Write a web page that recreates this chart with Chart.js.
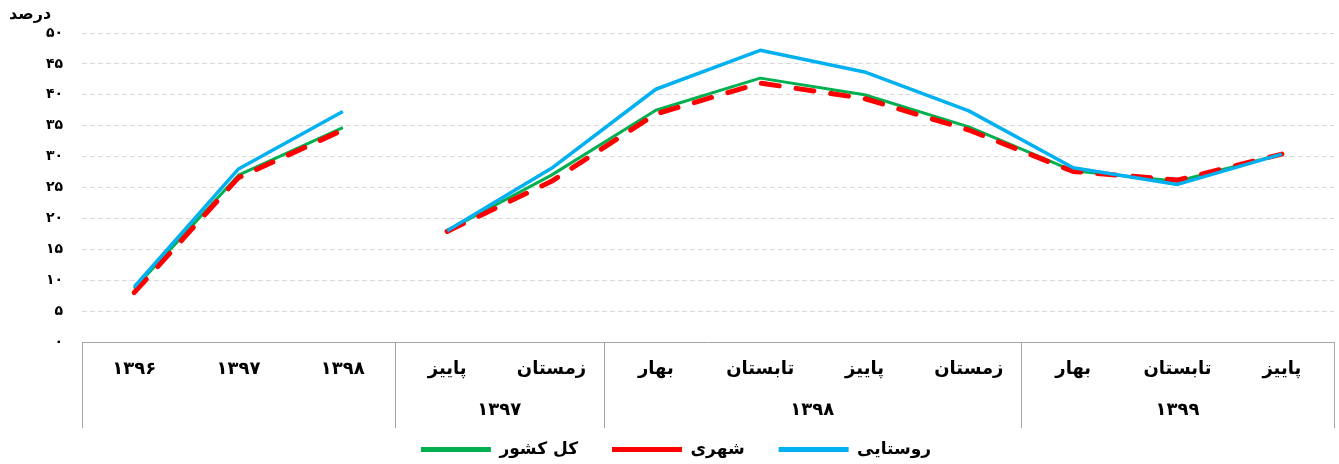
<!DOCTYPE html>
<html>
<head>
<meta charset="utf-8">
<script src="https://cdn.jsdelivr.net/npm/chart.js@4"></script>
<style>
  body { margin: 0; background: #fff; }
  #wrap { width: 1339px; height: 464px; }
</style>
</head>
<body>
<div id="wrap"><canvas id="chart"></canvas></div>
<script>
const categories = ['۱۳۹۶', '۱۳۹۷', '۱۳۹۸', 'پاییز', 'زمستان', 'بهار', 'تابستان', 'پاییز', 'زمستان', 'بهار', 'تابستان', 'پاییز'];
const groupLabels = ['', '۱۳۹۷', '۱۳۹۸', '۱۳۹۹'];
const groupSizes = [3, 2, 4, 3];
const seriesNames = ['کل کشور', 'شهری', 'روستایی'];
const total = [8.6, 27.0, 34.7, 18.0, 27.0, 37.5, 42.7, 40.0, 34.8, 27.7, 26.0, 30.4];
const urban = [8.0, 26.6, 34.3, 17.9, 26.0, 36.9, 41.9, 39.4, 34.3, 27.6, 26.2, 30.4];
const rural = [8.9, 28.0, 37.3, 18.0, 28.1, 40.9, 47.2, 43.7, 37.4, 28.2, 25.5, 30.4];
const yTicks = [0, 5, 10, 15, 20, 25, 30, 35, 40, 45, 50];

const FONT = "'DejaVu Sans', sans-serif";
const persianDigits = '۰۱۲۳۴۵۶۷۸۹';
function toPersian(n) {
    return String(n).replace(/\d/g, d => persianDigits[d]);
}

// break between the annual points and the quarterly points
const breakAfter = groupSizes[0] - 1;
const gapSegment = {
    borderColor: ctx => ctx.p0DataIndex === breakAfter ? 'rgba(0,0,0,0)' : undefined
};

const axisBox = {
    id: 'axisBox',
    afterLayout(chart) {
        // nudge the legend row a little lower and to the right
        chart.legend.top += 4;
        chart.legend.bottom += 4;
        chart.legend.left += 9;
        chart.legend.right += 9;
    },
    afterDraw(chart) {
        const ctx = chart.ctx;
        const x = chart.scales.x;
        const top = x.top;
        const bottom = top + 86;
        ctx.save();
        ctx.strokeStyle = '#a6a6a6';
        ctx.lineWidth = 1;
        let start = 0;
        const bounds = [0];
        groupSizes.forEach(s => { start += s; bounds.push(start); });
        bounds.forEach(b => {
            const px = Math.round(x.getPixelForValue(b - 0.5)) + 0.5;
            ctx.beginPath();
            ctx.moveTo(px, top);
            ctx.lineTo(px, bottom);
            ctx.stroke();
        });
        ctx.fillStyle = '#000';
        ctx.font = 'bold 18px ' + FONT;
        ctx.textAlign = 'center';
        ctx.textBaseline = 'middle';
        for (let g = 0; g < groupLabels.length; g++) {
            const l = x.getPixelForValue(bounds[g] - 0.5);
            const r = x.getPixelForValue(bounds[g + 1] - 0.5);
            ctx.fillText(groupLabels[g], (l + r) / 2, top + 68);
        }
        ctx.font = 'bold 16px ' + FONT;
        ctx.textAlign = 'left';
        ctx.fillText('درصد', 9, 15);
        ctx.restore();
    }
};

const colors = ['#00b050', '#ff0000', '#00b0f0'];

new Chart(document.getElementById('chart'), {
    type: 'line',
    data: {
        labels: categories,
        datasets: [
            { label: seriesNames[0], data: total, borderColor: colors[0], backgroundColor: colors[0], borderWidth: 3, order: 2, segment: gapSegment },
            { label: seriesNames[1], data: urban, borderColor: colors[1], backgroundColor: colors[1], borderWidth: 5, borderDash: [18, 17], borderCapStyle: 'round', order: 1, segment: gapSegment },
            { label: seriesNames[2], data: rural, borderColor: colors[2], backgroundColor: colors[2], borderWidth: 3.5, order: 0, segment: gapSegment }
        ]
    },
    options: {
        responsive: true,
        maintainAspectRatio: false,
        animation: false,
        layout: { padding: { top: 33, right: 5, left: 0, bottom: 0 } },
        elements: { point: { radius: 0, hoverRadius: 0 }, line: { tension: 0, borderJoinStyle: 'round' } },
        plugins: {
            tooltip: { enabled: false },
            legend: {
                position: 'bottom',
                labels: {
                    boxWidth: 70,
                    boxHeight: 5,
                    padding: 34,
                    color: '#000',
                    font: { family: FONT, size: 17, weight: 'bold' },
                    sort: (a, b) => a.datasetIndex - b.datasetIndex,
                    generateLabels(chart) {
                        const items = Chart.defaults.plugins.legend.labels.generateLabels(chart);
                        items.forEach(it => {
                            it.lineDash = [];
                            it.lineWidth = 0;
                            it.fillStyle = colors[it.datasetIndex];
                            it.strokeStyle = colors[it.datasetIndex];
                        });
                        return items;
                    }
                }
            }
        },
        scales: {
            x: {
                offset: true,
                grid: { display: false, drawTicks: false },
                border: { display: true, color: '#a6a6a6', width: 1 },
                ticks: {
                    autoSkip: false,
                    maxRotation: 0,
                    padding: 17,
                    color: '#000',
                    font: { family: FONT, size: 18, weight: 'bold' }
                },
                afterFit(scale) { scale.height = 61; }
            },
            y: {
                min: 0,
                max: 50,
                afterBuildTicks(scale) { scale.ticks = yTicks.map(v => ({ value: v })); },
                grid: {
                    color: ctx => ctx.tick && ctx.tick.value === 0 ? 'rgba(0,0,0,0)' : '#d9d9d9',
                    lineWidth: 1,
                    drawTicks: false
                },
                border: { display: false, dash: [5, 3] },
                ticks: {
                    padding: 19,
                    color: '#000',
                    font: { family: FONT, size: 14, weight: 'bold' },
                    callback: v => toPersian(v)
                },
                afterFit(scale) { scale.width = 82; }
            }
        }
    },
    plugins: [axisBox]
});
</script>
</body>
</html>
